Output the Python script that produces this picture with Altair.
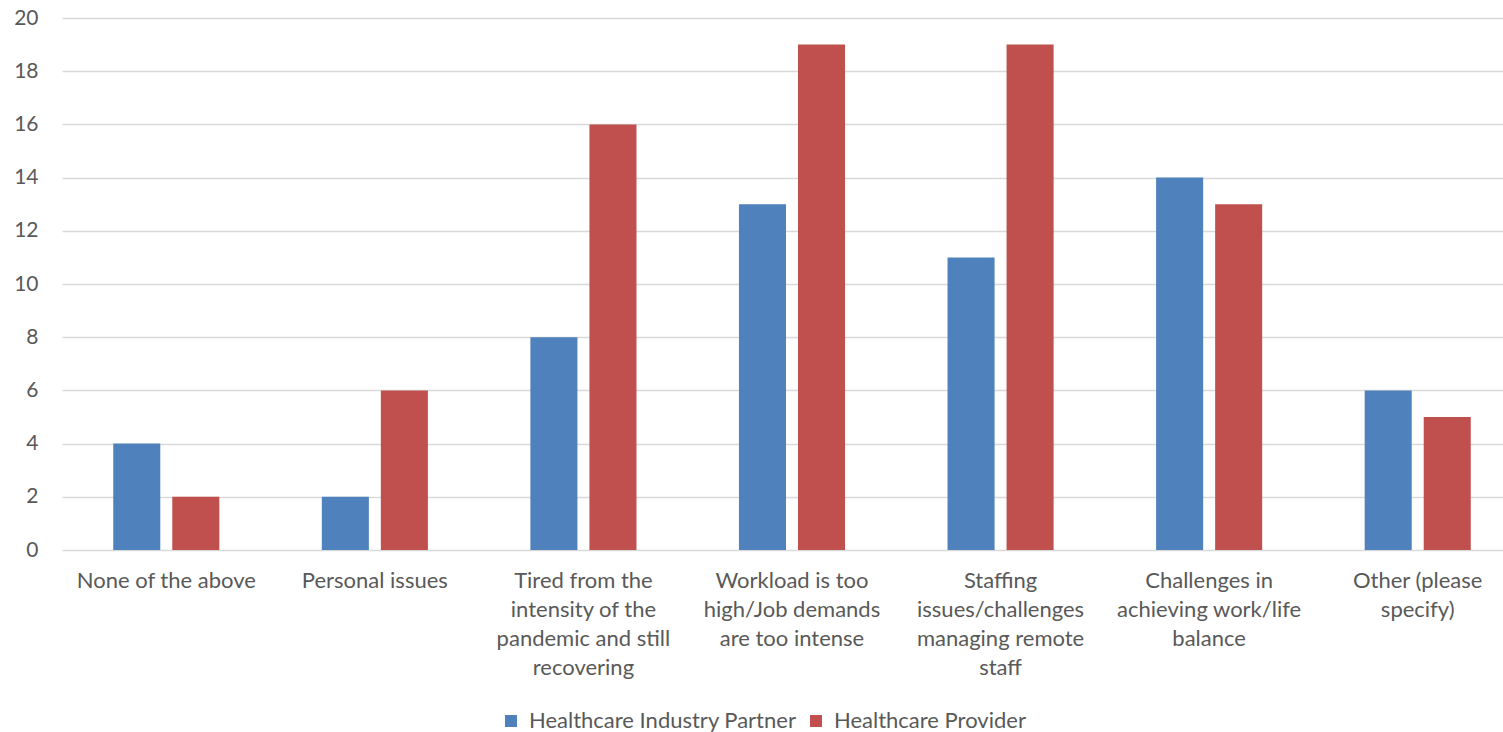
import altair as alt
import pandas as pd

categories = [
    "None of the above",
    "Personal issues",
    "Tired from the\nintensity of the\npandemic and still\nrecovering",
    "Workload is too\nhigh/Job demands\nare too intense",
    "Staffing\nissues/challenges\nmanaging remote\nstaff",
    "Challenges in\nachieving work/life\nbalance",
    "Other (please\nspecify)",
]
series = ["Healthcare Industry Partner", "Healthcare Provider"]
partner = [4, 2, 8, 13, 11, 14, 6]
provider = [2, 6, 16, 19, 19, 13, 5]
colors = ["#4F81BD", "#C0504D"]

rows = []
for c, a, b in zip(categories, partner, provider):
    rows.append({"category": c, "series": series[0], "value": a})
    rows.append({"category": c, "series": series[1], "value": b})
df = pd.DataFrame(rows)

FONT = "Lato"

chart = alt.Chart(df).mark_bar().encode(
    x=alt.X("category:N", sort=categories, title=None,
            scale=alt.Scale(paddingInner=0, paddingOuter=0, range=[0, 1460]),
            axis=alt.Axis(labelAngle=0, labelExpr="split(datum.label, '\\n')",
                          labelFont=FONT, labelFontSize=22, labelColor="#595959",
                          labelLineHeight=29, labelPadding=20, labelBaseline="top",
                          domain=False, ticks=False, grid=False, labelLimit=300)),
    xOffset=alt.XOffset("series:N", sort=series,
                        scale=alt.Scale(paddingInner=0.203, paddingOuter=0.868)),
    y=alt.Y("value:Q", title=None,
            scale=alt.Scale(domain=[0, 20], nice=False),
            axis=alt.Axis(values=list(range(0, 21, 2)), labelFont=FONT, labelFontSize=21,
                          labelColor="#595959", labelPadding=24, domain=False, ticks=False,
                          gridColor="#d9d9d9", gridWidth=1.5)),
    color=alt.Color("series:N", sort=series, title=None,
                    scale=alt.Scale(domain=series, range=colors),
                    legend=alt.Legend(orient="none", legendX=438, legendY=692,
                                      direction="horizontal", symbolType="square",
                                      symbolSize=144, symbolStrokeWidth=0,
                                      labelFont=FONT, labelFontSize=22, labelColor="#595959",
                                      labelOffset=7, columnPadding=8, labelLimit=400)),
).properties(
    width=1441, height=532,
    padding={"left": 62, "top": 18, "right": 0, "bottom": 182},
    autosize=alt.AutoSizeParams(type="none"),
).configure_view(stroke=None)

chart.save("out.html", embed_options={"renderer": "svg", "actions": False})
